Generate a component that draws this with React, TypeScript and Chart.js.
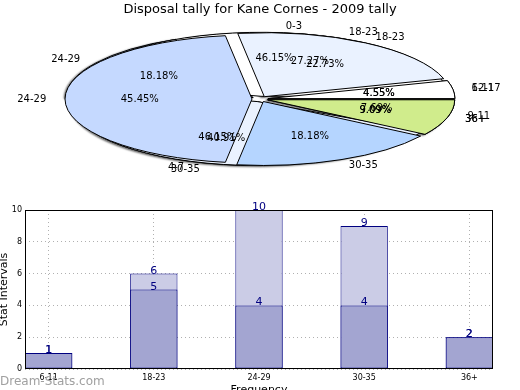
import React, { useEffect, useRef } from 'react';
import { Chart, registerables } from 'chart.js';

Chart.register(...registerables);
Chart.defaults.font.family = "'DejaVu Sans', sans-serif";

const TITLE = 'Disposal tally for Kane Cornes - 2009 tally';

// Pie drawn on top
const pieBLabels = ['6-11', '18-23', '24-29', '30-35', '36+'];
const pieBValues = [1, 5, 10, 4, 2];
// Pie underneath (middle)
const pieALabels = ['0-3', '4-7', '9-11'];
const pieAValues = [6, 6, 1];
// Pie at the bottom
const pieCLabels = ['12-17', '18-23', '24-29', '30-35', '36+'];
const pieCValues = [1, 6, 4, 9, 2];
const pieColors = ['#ffffff', '#eaf2ff', '#c5d9ff', '#b5d5ff', '#d0ec8c'];

// Bar chart
const barCategories = ['6-11', '18-23', '24-29', '30-35', '36+'];
const barTotals = [1, 6, 10, 9, 2];
const barCounts = [1, 5, 4, 4, 2];
const yTicks = [0, 2, 4, 6, 8, 10];

// ellipse geometry (layout)
const G = { cx: 260, cy: 99, r: 187, k: 0.342, explode: 8 };

const ellipsePie = {
  id: 'ellipsePie',
  afterDatasetsUpdate(chart: any) {
    chart.data.datasets.forEach((_ds: any, i: number) => {
      const meta = chart.getDatasetMeta(i);
      meta.data.forEach((arc: any) => {
        const mid = (arc.startAngle + arc.endAngle) / 2;
        arc.x = G.cx + Math.cos(mid) * G.explode;
        arc.y = G.cy + Math.sin(mid) * G.explode;
        arc.innerRadius = 0;
        arc.outerRadius = G.r;
      });
    });
  },
  beforeDatasetsDraw(chart: any) {
    const ctx = chart.ctx;
    ctx.save();
    const base = ctx.getTransform();
    ctx.translate(G.cx, G.cy);
    ctx.scale(1, -G.k);
    ctx.translate(-G.cx, -G.cy);
    const orig = CanvasRenderingContext2D.prototype.stroke;
    ctx.stroke = function (...args: any[]) {
      this.save();
      this.setTransform(base);
      (orig as any).apply(this, args);
      this.restore();
    };
  },
  beforeDatasetDraw(chart: any, args: any) {
    const ctx = chart.ctx;
    ctx.save();
    if (args.index === chart.data.datasets.length - 1) {
      ctx.shadowColor = 'rgba(0,0,0,0.55)';
      ctx.shadowOffsetX = -2;
      ctx.shadowOffsetY = 1;
      ctx.shadowBlur = 2;
    }
  },
  afterDatasetDraw(chart: any) {
    chart.ctx.restore();
  },
  afterDatasetsDraw(chart: any) {
    const ctx = chart.ctx;
    delete ctx.stroke;
    ctx.restore();
  },
  afterDraw(chart: any) {
    const ctx = chart.ctx;
    ctx.save();
    ctx.font = "10px 'DejaVu Sans', sans-serif";
    ctx.fillStyle = '#000';
    ctx.textBaseline = 'middle';
    const order = [2, 1, 0];
    order.forEach((i) => {
      const ds = chart.data.datasets[i];
      const meta = chart.getDatasetMeta(i);
      const total = ds.data.reduce((a: number, b: number) => a + b, 0);
      meta.data.forEach((arc: any, j: number) => {
        const mid = (arc.startAngle + arc.endAngle) / 2;
        const c = Math.cos(mid);
        const s = Math.sin(mid);
        const dl = G.explode + 1.1 * G.r;
        const dp = G.explode + 0.6 * G.r;
        ctx.textAlign = c > 0 ? 'left' : 'right';
        ctx.fillText(ds.sliceLabels[j], G.cx + c * dl, G.cy - G.k * s * dl);
        ctx.textAlign = 'center';
        const pct = ((ds.data[j] / total) * 100).toFixed(2) + '%';
        ctx.fillText(pct, G.cx + c * dp, G.cy - G.k * s * dp);
      });
    });
    ctx.restore();
  },
};

const frame = {
  id: 'frame',
  afterDraw(chart: any) {
    const { left, top, right, bottom } = chart.chartArea;
    const ctx = chart.ctx;
    ctx.save();
    ctx.strokeStyle = '#000';
    ctx.lineWidth = 1;
    ctx.strokeRect(Math.round(left) + 0.5, Math.round(top) + 0.5, Math.round(right - left) - 1, Math.round(bottom - top) - 1);
    ctx.restore();
  },
};

const barValueLabels = {
  id: 'barValueLabels',
  afterDraw(chart: any) {
    const ctx = chart.ctx;
    ctx.save();
    ctx.font = "11px 'DejaVu Sans', sans-serif";
    ctx.fillStyle = '#000080';
    ctx.textAlign = 'center';
    ctx.textBaseline = 'alphabetic';
    [1, 0].forEach((i) => {
      const ds = chart.data.datasets[i];
      const meta = chart.getDatasetMeta(i);
      meta.data.forEach((bar: any, j: number) => {
        ctx.fillText(String(ds.data[j].y), bar.x, bar.y);
      });
    });
    ctx.restore();
  },
};

export default function App() {
  const pieRef = useRef<HTMLCanvasElement>(null);
  const barRef = useRef<HTMLCanvasElement>(null);

  useEffect(() => {
    const pie = new Chart(pieRef.current as HTMLCanvasElement, {
      type: 'pie',
      data: {
        labels: pieBLabels,
        datasets: [
          { data: pieBValues, sliceLabels: pieBLabels, backgroundColor: pieColors, borderColor: '#000', borderWidth: 1, clip: false } as any,
          { data: pieAValues, sliceLabels: pieALabels, backgroundColor: pieColors.slice(0, 3), borderColor: '#000', borderWidth: 1, clip: false } as any,
          { data: pieCValues, sliceLabels: pieCLabels, backgroundColor: pieColors, borderColor: '#000', borderWidth: 1, clip: false } as any,
        ],
      },
      options: {
        responsive: false,
        animation: false,
        rotation: 90,
        plugins: {
          legend: { display: false },
          tooltip: { enabled: false },
          title: {
            display: true,
            text: TITLE,
            color: '#000',
            font: { size: 13, weight: 'normal' },
            padding: { top: 2, bottom: 0 },
          },
        },
      } as any,
      plugins: [ellipsePie],
    });

    const bar = new Chart(barRef.current as HTMLCanvasElement, {
      type: 'bar',
      data: {
        datasets: [
          {
            label: 'counts',
            data: barCounts.map((v, i) => ({ x: i, y: v })),
            backgroundColor: '#a3a5d1',
            borderColor: '#000080',
            borderWidth: 1,
            borderSkipped: false,
            grouped: false,
            barPercentage: 0.45,
            categoryPercentage: 1,
          },
          {
            label: 'totals',
            data: barTotals.map((v, i) => ({ x: i, y: v })),
            backgroundColor: '#cbcce6',
            borderColor: '#000080',
            borderWidth: 1,
            borderSkipped: false,
            grouped: false,
            barPercentage: 0.45,
            categoryPercentage: 1,
          },
        ] as any,
      },
      options: {
        responsive: false,
        animation: false,
        layout: { padding: { top: 15, right: 27, left: 0, bottom: 0 } },
        plugins: { legend: { display: false }, tooltip: { enabled: false } },
        scales: {
          x: {
            type: 'linear',
            offset: false,
            min: -0.225,
            max: 4.225,
            z: 1,
            afterBuildTicks: (s: any) => {
              s.ticks = barCategories.map((_, i) => ({ value: i }));
            },
            afterFit: (s: any) => {
              s.height = 31;
            },
            ticks: {
              callback: (v: any) => barCategories[v] ?? '',
              font: { size: 8 },
              color: '#000',
              padding: 4,
              autoSkip: false,
              maxRotation: 0,
            },
            grid: { color: '#b0b0b0', drawTicks: false, offset: false },
            border: { display: false, dash: [1, 3] },
            title: { display: true, text: 'Frequency', color: '#000', font: { size: 11 }, padding: { top: 0, bottom: 3 } },
          },
          y: {
            min: 0,
            max: 10,
            z: 1,
            afterBuildTicks: (s: any) => {
              s.ticks = yTicks.map((v) => ({ value: v }));
            },
            afterFit: (s: any) => {
              s.width = 25;
            },
            ticks: { font: { size: 8 }, color: '#000', padding: 3 },
            grid: { color: '#b0b0b0', drawTicks: false },
            border: { display: false, dash: [1, 3] },
            title: { display: true, text: 'Stat Intervals', color: '#000', font: { size: 11, lineHeight: 0.8 }, padding: 0 },
          },
        },
      } as any,
      plugins: [frame, barValueLabels],
    });

    return () => {
      pie.destroy();
      bar.destroy();
    };
  }, []);

  return (
    <div style={{ position: 'absolute', left: 0, top: 0, width: 520, height: 390, overflow: 'hidden', background: '#fff' }}>
      <canvas ref={pieRef} width={520} height={190} style={{ position: 'absolute', left: 0, top: 0 }} />
      <canvas ref={barRef} width={520} height={205} style={{ position: 'absolute', left: 0, top: 195 }} />
      <div
        style={{
          position: 'absolute',
          left: 0,
          top: 374,
          fontFamily: "'DejaVu Sans', sans-serif",
          fontSize: 12,
          lineHeight: '14px',
          color: '#a0a0a0',
          zIndex: 2,
        }}
      >
        Dream-Stats.com
      </div>
    </div>
  );
}
